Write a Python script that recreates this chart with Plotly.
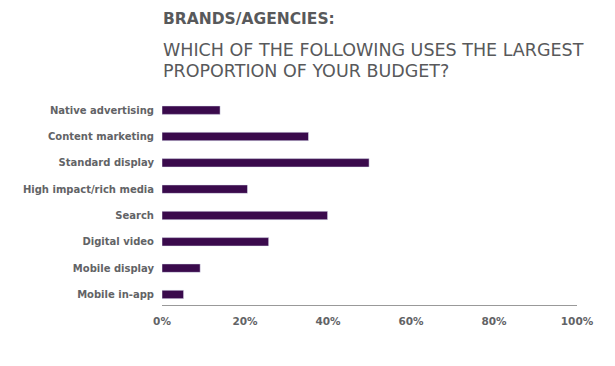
import plotly.graph_objects as go

categories = ["Native advertising", "Content marketing", "Standard display",
              "High impact/rich media", "Search", "Digital video",
              "Mobile display", "Mobile in-app"]
values = [14.0, 35.3, 49.9, 20.6, 39.9, 25.7, 9.2, 5.2]
tick_vals = [0, 20, 40, 60, 80, 100]
tick_text = ["0%", "20%", "40%", "60%", "80%", "100%"]

GRAY = "#626366"
fig = go.Figure(go.Bar(
    x=values, y=categories, orientation="h",
    marker=dict(color="#3a0a4c"), width=0.32,
))

L, R, T, B = 162, 38, 97, 61
fig.update_layout(
    width=615, height=366,
    margin=dict(l=L, r=R, t=T, b=B),
    paper_bgcolor="white", plot_bgcolor="white",
    showlegend=False,
    font=dict(family="DejaVu Sans", color=GRAY),
    xaxis=dict(range=[0, 100], tickvals=tick_vals, ticktext=tick_text,
               showgrid=False, zeroline=False, showline=True,
               linecolor="#999999", linewidth=1, ticks="",
               tickfont=dict(size=10.5, color=GRAY, weight="bold"),
               ticklabelstandoff=6),
    yaxis=dict(type="category", categoryorder="array", categoryarray=categories,
               range=[7.4, -0.5], showgrid=False, zeroline=False, showline=False,
               ticks="", ticklabelstandoff=7,
               tickfont=dict(size=10, color=GRAY, weight="bold")),
    annotations=[
        dict(text="<b>BRANDS/AGENCIES:</b>", x=161, y=366-30, xref="paper", yref="paper",
             showarrow=False, xanchor="left", yanchor="bottom",
             font=dict(size=15.5, color="#58595b", family="DejaVu Sans")),
        dict(text="WHICH OF THE FOLLOWING USES THE LARGEST",
             x=161, y=366-38, xref="paper", yref="paper",
             showarrow=False, xanchor="left", yanchor="top", align="left",
             font=dict(size=17.5, color="#58595b", family="DejaVu Sans")),
        dict(text="PROPORTION OF YOUR BUDGET?",
             x=161, y=366-59, xref="paper", yref="paper",
             showarrow=False, xanchor="left", yanchor="top", align="left",
             font=dict(size=17.5, color="#58595b", family="DejaVu Sans")),
    ],
)

plot_w = 615 - L - R
plot_h = 366 - T - B
for a in fig.layout.annotations:
    a.x = (a.x - L) / plot_w
    a.y = (a.y - B) / plot_h

fig.write_html("out.html", config={"displayModeBar": False},
               post_script="document.body.style.margin='0px';")
